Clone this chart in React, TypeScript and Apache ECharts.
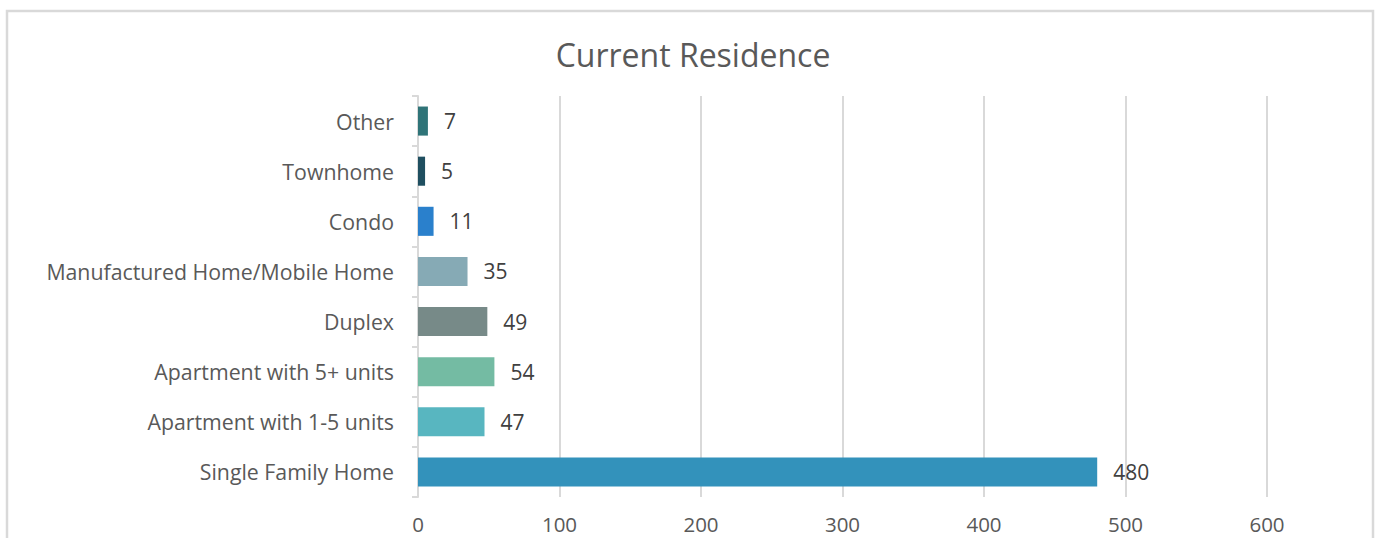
import React, { useEffect, useRef } from "react";
import * as echarts from "echarts";

const categories = [
  "Single Family Home",
  "Apartment with 1-5 units",
  "Apartment with 5+ units",
  "Duplex",
  "Manufactured Home/Mobile Home",
  "Condo",
  "Townhome",
  "Other",
];
const values = [480, 47, 54, 49, 35, 11, 5, 7];
const barColors = [
  "#3392bb",
  "#58b6c0",
  "#74bba3",
  "#778a88",
  "#86aab5",
  "#2a80cc",
  "#1f4f60",
  "#2f7478",
];
const xTicks = { min: 0, max: 600, interval: 100 };
const titleText = "Current Residence";

const FONT = "'Open Sans', sans-serif";

export default function App() {
  const ref = useRef<HTMLDivElement>(null);
  useEffect(() => {
    if (!ref.current) return;
    const chart = echarts.init(ref.current, undefined, { renderer: "svg" });
    chart.setOption({
      animation: false,
      backgroundColor: "#ffffff",
      title: {
        text: titleText,
        left: 688,
        textAlign: "center",
        top: 33,
        textStyle: { fontFamily: FONT, fontSize: 32, fontWeight: 400, color: "#595959" },
      },
      graphic: [
        {
          type: "rect",
          shape: { x: 7, y: 11, width: 1366, height: 560 },
          style: { fill: "none", stroke: "#d9d9d9", lineWidth: 2.5 },
          silent: true,
        },
      ],
      grid: { left: 418, right: 110, top: 96, bottom: 41, containLabel: false },
      xAxis: {
        type: "value",
        min: xTicks.min,
        max: xTicks.max,
        interval: xTicks.interval,
        axisLine: { show: false },
        axisTick: { show: false },
        splitLine: { show: true, lineStyle: { color: "#d9d9d9", width: 2 } },
        axisLabel: {
          fontFamily: FONT,
          fontSize: 20.5,
          color: "#595959",
          margin: 16,
          lineHeight: 22,
        },
      },
      yAxis: {
        type: "category",
        data: categories,
        axisLine: { show: true, lineStyle: { color: "#d9d9d9", width: 2 } },
        axisTick: { show: true, length: 6, lineStyle: { color: "#d9d9d9", width: 2 } },
        axisLabel: { fontFamily: FONT, fontSize: 21.3, color: "#595959", margin: 24 },
      },
      series: [
        {
          type: "bar",
          data: values.map((v, i) => ({ value: v, itemStyle: { color: barColors[i] } })),
          barCategoryGap: "42%",
          label: {
            show: true,
            position: "right",
            distance: 16,
            fontFamily: FONT,
            fontSize: 21,
            color: "#404040",
          },
        },
      ],
    });
    return () => chart.dispose();
  }, []);
  return (
    <div
      ref={ref}
      style={{ position: "fixed", left: 0, top: 0, width: 1377, height: 538 }}
    />
  );
}
